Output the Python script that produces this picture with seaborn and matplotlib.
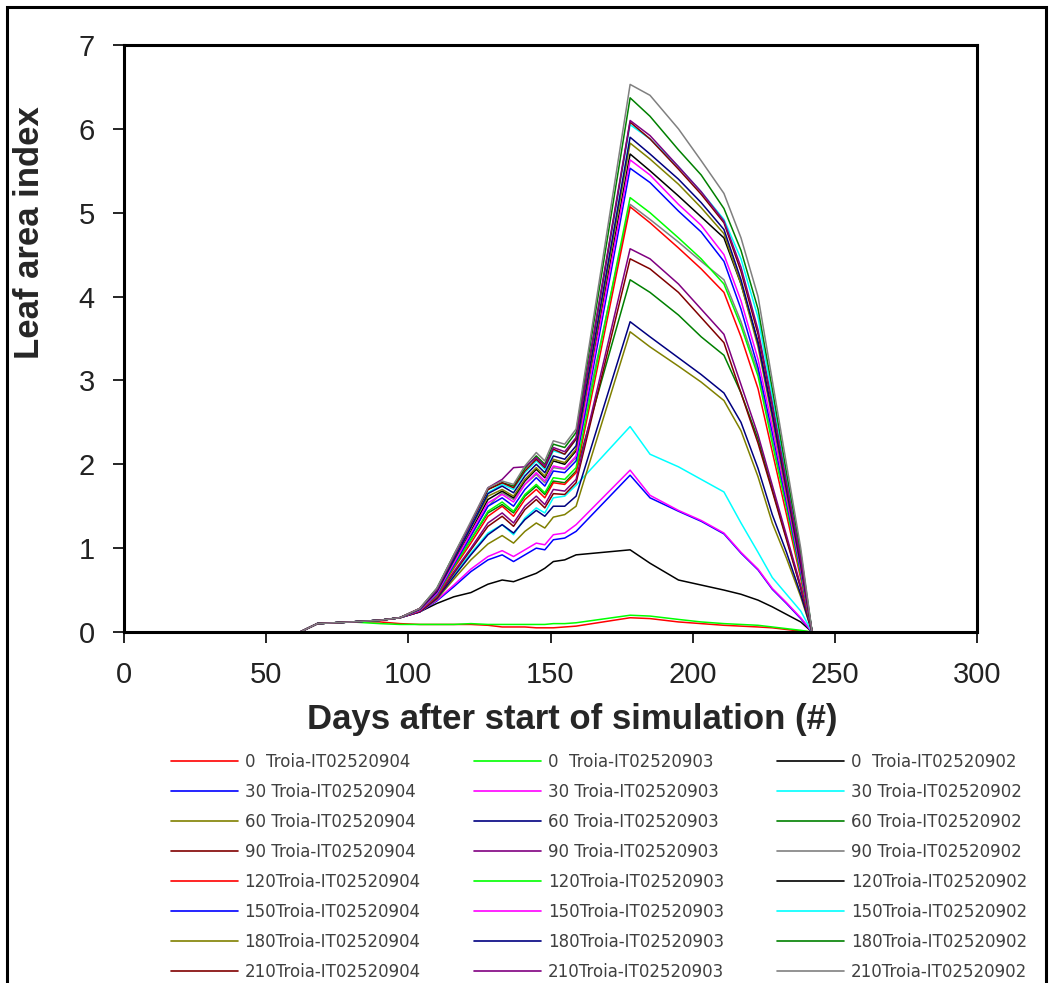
import pandas as pd
import seaborn as sns
import matplotlib.pyplot as plt
from matplotlib.patches import Rectangle

days = [0, 62, 68, 80, 90, 97, 104, 110, 116, 122, 128, 133, 137, 141, 145, 148,
        151, 155, 159, 178, 185, 195, 203, 211, 217, 223, 228, 233, 238, 242, 300]

rates = [0, 30, 60, 90, 120, 150, 180, 210]
soils = ['IT02520904', 'IT02520903', 'IT02520902']

# Excel default series colours, in series order
colors = ['#FF0000', '#00FF00', '#000000', '#0000FF', '#FF00FF', '#00FFFF',
          '#808000', '#000080', '#008000', '#800000', '#800080', '#808080']

# leaf area index per series (rate, soil)
lai_0_904 = [0, 0, 0.1, 0.12, 0.12, 0.1, 0.09, 0.09, 0.09, 0.09, 0.08, 0.06, 0.06, 0.06, 0.05, 0.05,
             0.05, 0.06, 0.07, 0.17, 0.16, 0.12, 0.1, 0.08, 0.07, 0.06, 0.05, 0.03, 0.01, 0, 0]
lai_0_903 = [0, 0, 0.1, 0.12, 0.1, 0.09, 0.09, 0.09, 0.09, 0.1, 0.09, 0.09, 0.09, 0.09, 0.09, 0.09,
             0.1, 0.1, 0.11, 0.2, 0.19, 0.15, 0.12, 0.1, 0.09, 0.08, 0.06, 0.04, 0.02, 0, 0]
lai_0_902 = [0, 0, 0.1, 0.12, 0.14, 0.17, 0.24, 0.34, 0.42, 0.47, 0.57, 0.62, 0.6, 0.65, 0.7, 0.76,
             0.84, 0.86, 0.92, 0.98, 0.82, 0.62, 0.56, 0.5, 0.45, 0.38, 0.3, 0.21, 0.12, 0, 0]
lai_30_904 = [0, 0, 0.1, 0.12, 0.14, 0.17, 0.24, 0.37, 0.54, 0.72, 0.86, 0.92, 0.84, 0.92, 1.0, 0.98,
              1.1, 1.12, 1.2, 1.87, 1.6, 1.44, 1.32, 1.17, 0.94, 0.74, 0.51, 0.34, 0.16, 0, 0]
lai_30_903 = [0, 0, 0.1, 0.12, 0.14, 0.17, 0.24, 0.38, 0.56, 0.75, 0.9, 0.97, 0.9, 0.98, 1.06, 1.04,
              1.16, 1.18, 1.28, 1.93, 1.63, 1.45, 1.33, 1.18, 0.95, 0.75, 0.52, 0.35, 0.17, 0, 0]
lai_30_902 = [0, 0, 0.1, 0.12, 0.14, 0.17, 0.25, 0.42, 0.68, 0.94, 1.18, 1.28, 1.16, 1.36, 1.48, 1.42,
              1.6, 1.62, 1.75, 2.45, 2.12, 1.97, 1.82, 1.67, 1.3, 0.95, 0.65, 0.45, 0.25, 0, 0]
lai_60_904 = [0, 0, 0.1, 0.12, 0.14, 0.17, 0.24, 0.39, 0.63, 0.86, 1.05, 1.15, 1.06, 1.2, 1.3, 1.24,
              1.37, 1.4, 1.5, 3.58, 3.4, 3.17, 2.98, 2.76, 2.4, 1.85, 1.3, 0.88, 0.42, 0, 0]
lai_60_903 = [0, 0, 0.1, 0.12, 0.14, 0.17, 0.24, 0.4, 0.66, 0.92, 1.16, 1.28, 1.18, 1.34, 1.45, 1.38,
              1.5, 1.5, 1.62, 3.7, 3.52, 3.27, 3.07, 2.85, 2.5, 1.95, 1.4, 0.95, 0.45, 0, 0]
lai_60_902 = [0, 0, 0.1, 0.12, 0.14, 0.17, 0.26, 0.44, 0.78, 1.1, 1.42, 1.52, 1.42, 1.62, 1.74, 1.64,
              1.8, 1.78, 1.92, 4.2, 4.05, 3.78, 3.52, 3.3, 2.85, 2.3, 1.7, 1.12, 0.53, 0, 0]
lai_90_904 = [0, 0, 0.1, 0.12, 0.14, 0.17, 0.25, 0.41, 0.7, 0.98, 1.26, 1.38, 1.26, 1.46, 1.58, 1.48,
              1.65, 1.64, 1.78, 4.45, 4.33, 4.05, 3.75, 3.45, 2.85, 2.25, 1.68, 1.1, 0.52, 0, 0]
lai_90_903 = [0, 0, 0.1, 0.12, 0.14, 0.17, 0.25, 0.42, 0.72, 1.0, 1.3, 1.42, 1.3, 1.5, 1.62, 1.52,
              1.7, 1.68, 1.82, 4.57, 4.45, 4.15, 3.85, 3.55, 2.95, 2.35, 1.75, 1.15, 0.55, 0, 0]
lai_90_902 = [0, 0, 0.1, 0.12, 0.14, 0.17, 0.26, 0.45, 0.8, 1.14, 1.5, 1.66, 1.58, 1.76, 1.88, 1.78,
              1.96, 1.94, 2.08, 5.1, 4.92, 4.65, 4.42, 4.2, 3.7, 3.1, 2.3, 1.5, 0.7, 0, 0]
lai_120_904 = [0, 0, 0.1, 0.12, 0.14, 0.17, 0.25, 0.43, 0.76, 1.06, 1.38, 1.5, 1.38, 1.58, 1.7, 1.6,
               1.78, 1.76, 1.9, 5.07, 4.88, 4.58, 4.33, 4.05, 3.52, 2.9, 2.15, 1.4, 0.64, 0, 0]
lai_120_903 = [0, 0, 0.1, 0.12, 0.14, 0.17, 0.26, 0.44, 0.78, 1.1, 1.44, 1.55, 1.44, 1.64, 1.76, 1.66,
               1.84, 1.82, 1.96, 5.18, 5.0, 4.7, 4.45, 4.15, 3.65, 3.05, 2.25, 1.48, 0.68, 0, 0]
lai_120_902 = [0, 0, 0.1, 0.12, 0.14, 0.17, 0.27, 0.47, 0.84, 1.2, 1.58, 1.68, 1.6, 1.8, 1.94, 1.84,
               2.04, 2.0, 2.16, 5.7, 5.5, 5.2, 4.95, 4.7, 4.15, 3.45, 2.6, 1.7, 0.82, 0, 0]
lai_150_904 = [0, 0, 0.1, 0.12, 0.14, 0.17, 0.26, 0.45, 0.8, 1.15, 1.5, 1.6, 1.5, 1.7, 1.84, 1.74,
               1.92, 1.9, 2.04, 5.53, 5.36, 5.02, 4.77, 4.42, 3.85, 3.15, 2.38, 1.55, 0.72, 0, 0]
lai_150_903 = [0, 0, 0.1, 0.12, 0.14, 0.17, 0.26, 0.46, 0.82, 1.18, 1.54, 1.64, 1.55, 1.76, 1.9, 1.8,
               1.98, 1.95, 2.1, 5.63, 5.45, 5.1, 4.85, 4.5, 3.95, 3.25, 2.45, 1.6, 0.75, 0, 0]
lai_150_902 = [0, 0, 0.1, 0.12, 0.14, 0.17, 0.27, 0.5, 0.88, 1.27, 1.66, 1.76, 1.7, 1.9, 2.04, 1.94,
               2.16, 2.12, 2.3, 6.05, 5.88, 5.55, 5.25, 4.92, 4.45, 3.75, 2.8, 1.85, 0.9, 0, 0]
lai_180_904 = [0, 0, 0.1, 0.12, 0.14, 0.17, 0.27, 0.48, 0.85, 1.24, 1.62, 1.7, 1.62, 1.82, 1.96, 1.86,
               2.06, 2.02, 2.18, 5.83, 5.64, 5.34, 5.06, 4.75, 4.15, 3.4, 2.55, 1.65, 0.78, 0, 0]
lai_180_903 = [0, 0, 0.1, 0.12, 0.14, 0.17, 0.27, 0.48, 0.86, 1.25, 1.65, 1.74, 1.66, 1.86, 2.0, 1.9,
               2.1, 2.06, 2.22, 5.9, 5.7, 5.4, 5.12, 4.8, 4.2, 3.45, 2.6, 1.7, 0.8, 0, 0]
lai_180_902 = [0, 0, 0.1, 0.12, 0.14, 0.17, 0.28, 0.52, 0.92, 1.3, 1.7, 1.78, 1.74, 1.95, 2.1, 2.0,
               2.24, 2.2, 2.38, 6.37, 6.15, 5.75, 5.45, 5.05, 4.55, 3.85, 2.9, 1.9, 0.95, 0, 0]
lai_210_904 = [0, 0, 0.1, 0.12, 0.14, 0.17, 0.28, 0.5, 0.9, 1.3, 1.7, 1.78, 1.72, 1.92, 2.06, 1.96,
               2.18, 2.12, 2.3, 6.08, 5.88, 5.52, 5.22, 4.88, 4.3, 3.55, 2.7, 1.75, 0.85, 0, 0]
lai_210_903 = [0, 0, 0.1, 0.12, 0.14, 0.17, 0.28, 0.5, 0.9, 1.3, 1.72, 1.82, 1.96, 1.97, 2.08, 1.98,
               2.2, 2.15, 2.32, 6.1, 5.92, 5.55, 5.25, 4.9, 4.35, 3.6, 2.72, 1.78, 0.87, 0, 0]
lai_210_902 = [0, 0, 0.1, 0.12, 0.14, 0.17, 0.28, 0.52, 0.92, 1.32, 1.72, 1.8, 1.76, 1.98, 2.14, 2.04,
               2.28, 2.24, 2.42, 6.53, 6.4, 6.0, 5.62, 5.23, 4.7, 4.0, 3.0, 2.0, 1.0, 0, 0]

series = [
    lai_0_904, lai_0_903, lai_0_902,
    lai_30_904, lai_30_903, lai_30_902,
    lai_60_904, lai_60_903, lai_60_902,
    lai_90_904, lai_90_903, lai_90_902,
    lai_120_904, lai_120_903, lai_120_902,
    lai_150_904, lai_150_903, lai_150_902,
    lai_180_904, lai_180_903, lai_180_902,
    lai_210_904, lai_210_903, lai_210_902,
]

labels = []
frames = []
i = 0
for r in rates:
    for s in soils:
        lab = f"{r:<3}Troia-{s}"
        labels.append(lab)
        frames.append(pd.DataFrame({'day': days, 'lai': series[i], 'series': lab}))
        i += 1
df = pd.concat(frames, ignore_index=True)
palette = {lab: colors[k % 12] for k, lab in enumerate(labels)}

sns.set_style('ticks')
plt.rcParams['font.family'] = ['Liberation Sans', 'DejaVu Sans']

fig = plt.figure(figsize=(10.52, 9.83), dpi=100)
ax = fig.add_axes([124 / 1052, 1 - 632 / 983, 853 / 1052, 587 / 983])

sns.lineplot(data=df, x='day', y='lai', hue='series', hue_order=labels,
             palette=palette, estimator=None, sort=False, linewidth=1.1, ax=ax)

ax.set_xlim(0, 300)
ax.set_ylim(0, 7)
ax.set_xticks(range(0, 301, 50))
ax.set_yticks(range(0, 8))
ax.set_xlabel('')
ax.set_ylabel('')
for sp in ax.spines.values():
    sp.set_visible(True)
    sp.set_linewidth(2.2)
    sp.set_color('black')
ax.tick_params(axis='both', direction='out', length=8, width=1.2, color='black',
               labelsize=21, labelcolor='#222222', pad=13)

fig.text(30 / 1052, 1 - 233 / 983, 'Leaf area index', rotation=90, ha='center', va='center',
         fontsize=25, fontweight='bold')
fig.text(572 / 1052, 1 - 720 / 983, 'Days after start of simulation (#)', ha='center', va='center',
         fontsize=25, fontweight='bold')

# legend: one column per soil, rows by rate
handles, labs = ax.get_legend_handles_labels()
ax.get_legend().remove()
order = [k * 3 + j for j in range(3) for k in range(8)]
leg = fig.legend([handles[k] for k in order], [labs[k] for k in order],
                 ncol=3, loc='upper center', bbox_to_anchor=(599 / 1052, 1 - 753 / 983),
                 frameon=False, prop={'family': 'DejaVu Sans', 'size': 12},
                 handlelength=4.0, handletextpad=0.42, columnspacing=3.2,
                 labelspacing=0.72, borderpad=0, borderaxespad=0)
for t in leg.get_texts():
    t.set_color('#404040')
for h in leg.legend_handles:
    h.set_linewidth(1.2)

# outer frame of the chart area
fig.patches.append(Rectangle((7 / 1052, -0.02), 1039 / 1052, 1 - 7 / 983 + 0.02,
                             transform=fig.transFigure, fill=False, edgecolor='black',
                             linewidth=2.2))

fig.savefig('out.png', dpi=100)
